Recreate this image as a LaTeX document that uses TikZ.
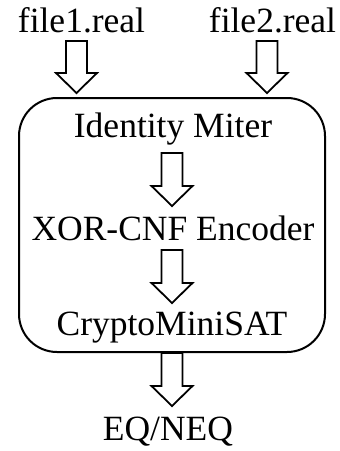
\documentclass[tikz,border=0pt]{standalone}
\usepackage{fontspec}
\setmainfont{Liberation Serif}
\usetikzlibrary{calc}

\tikzset{
  lbl/.style = {inner sep=0, anchor=base, font=\fontsize{17.75pt}{20pt}\selectfont},
  flowbox/.style = {draw, line width=1pt, rounded corners=19pt, minimum width=153pt, minimum height=127pt},
  fatline/.style = {draw, fill=white, line width=0.9pt, line join=miter}
}
\newcommand\fatarrow[2]{%
  \path[fatline] let \p1=#1, \p2=#2 in
    (\x1-5.25pt,\y1) -- (\x1-5.25pt,\y2+10pt) -- (\x1-10.25pt,\y2+10pt) -- (\x1,\y2)
    -- (\x1+10.25pt,\y2+10pt) -- (\x1+5.25pt,\y2+10pt) -- (\x1+5.25pt,\y1) -- cycle;}

\begin{document}
\begin{tikzpicture}[x=0.5pt, y=-0.5pt]
\useasboundingbox (0,0) rectangle (339,451);

\node[lbl] (f1) at (81.5, 32) {file1.real};
\node[lbl] (f2) at (272.5, 32) {file2.real};

\node[flowbox] (flow) at (172, 225) {};
\node[lbl] (miter) at (173, 137) {Identity Miter};
\node[lbl] (enc) at (173, 240) {XOR-CNF Encoder};
\node[lbl] (sat) at (172, 335) {CryptoMiniSAT};

\node[lbl] (res) at (168, 440) {EQ/NEQ};

\fatarrow{($(f1.base)+(-5,9)$)}{($(flow.north)+(0,-4)$)}
\fatarrow{($(f2.base)+(-5.5,9)$)}{($(flow.north)+(0,-4)$)}
\fatarrow{($(miter.base)+(-1,16)$)}{($(enc.base)+(0,-34)$)}
\fatarrow{($(enc.base)+(-1,10)$)}{($(sat.base)+(0,-32)$)}
\fatarrow{($(flow.south)+(0,0)$)}{($(res.base)+(0,-34)$)}
\end{tikzpicture}
\end{document}
